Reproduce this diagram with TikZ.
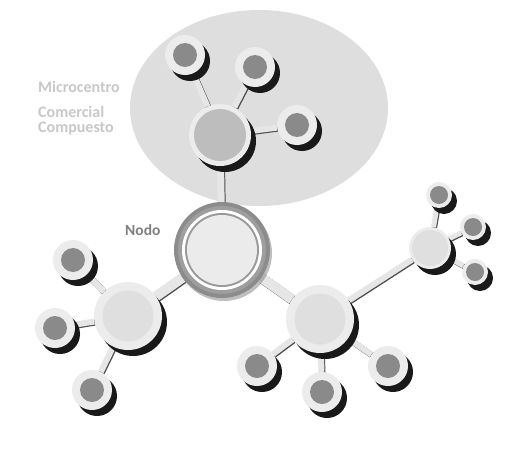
\documentclass[tikz,border=0pt]{standalone}
\usepackage{fontspec}
\setmainfont{Carlito}
\usetikzlibrary{shadows,backgrounds}

\definecolor{ringgray}{HTML}{ECECEC}
\definecolor{dotgray}{HTML}{8A8A8A}
\definecolor{hubgray}{HTML}{DFDFDF}
\definecolor{tophubgray}{HTML}{BDBDBD}
\definecolor{cloudgray}{HTML}{DEDEDE}
\definecolor{linkgray}{HTML}{E6E6E6}
\definecolor{labelgray}{HTML}{C8C8C8}
\definecolor{nodogray}{HTML}{8C8C8C}

\tikzset{
  shade/.style={drop shadow={shadow xshift=5pt,shadow yshift=-6pt,fill=black!90,opacity=1}},
  sat/.style={circle,inner sep=0pt,minimum size=40pt,fill=ringgray,shade,
    path picture={\fill[dotgray] (path picture bounding box.center) circle (12pt);}},
  tinysat/.style={circle,inner sep=0pt,minimum size=26pt,fill=ringgray,shade,
    path picture={\fill[dotgray] (path picture bounding box.center) circle (9pt);}},
  hub/.style={circle,inner sep=0pt,minimum size=68pt,fill=ringgray,shade,
    path picture={\fill[hubgray] (path picture bounding box.center) circle (25.5pt);}},
  link/.style={line width=#1,draw=linkgray},
  linkshade/.style={line width=#1,draw=black!70,transform canvas={xshift=1pt,yshift=-1pt}}
}

\begin{document}
\begin{tikzpicture}[x=1pt,y=-1pt]
  \useasboundingbox (0,0) rectangle (522,458);

  % nodo central
  \node[circle,inner sep=0pt,minimum size=96pt,fill=nodogray,
    drop shadow={shadow xshift=2pt,shadow yshift=-3pt,fill=black!50,opacity=.5},
    path picture={
      \fill[black!38] (path picture bounding box.center) circle (44pt);
      \fill[white] (path picture bounding box.center) circle (40pt);
      \fill[black!40] (path picture bounding box.center) circle (37pt);
      \fill[black!8] (path picture bounding box.center) circle (35pt);
    }] (nodo) at (222,250) {};
  \node[anchor=base west,inner sep=0pt,text=black!50,font=\fontsize{15.5}{15}\selectfont\bfseries]
    (lblnodo) at (125,235) {Nodo};

  % microcentro
  \node[hub,minimum size=62pt,path picture={\fill[tophubgray] (path picture bounding box.center) circle (26pt);}]
    (tophub) at (220,135) {};
  \node[sat] (tsat1) at (185,55) {};
  \node[sat] (tsat2) at (255,67) {};
  \node[sat] (tsat3) at (297,125) {};
  \node[anchor=base west,inner sep=0pt,text=labelgray,font=\fontsize{16}{15}\selectfont\bfseries]
    (lblmicro) at (38,92) {Microcentro};
  \node[anchor=north west,inner sep=0pt,align=left,text=labelgray,font=\fontsize{16}{15}\selectfont\bfseries]
    (lblcomercial) at (38,106) {Comercial\\Compuesto};

  % izquierda
  \node[hub] (lefthub) at (128,316) {};
  \node[sat] (lsat1) at (73,260) {};
  \node[sat] (lsat2) at (55,328) {};
  \node[sat] (lsat3) at (92,390) {};

  % derecha
  \node[hub] (righthub) at (320,319) {};
  \node[sat] (rsat1) at (257,366) {};
  \node[sat] (rsat2) at (322,392) {};
  \node[sat] (rsat3) at (388,366) {};

  % extremo derecho
  \node[hub,minimum size=42pt,path picture={\fill[hubgray] (path picture bounding box.center) circle (18pt);}]
    (farhub) at (430,248) {};
  \node[tinysat] (fsat1) at (439,195) {};
  \node[tinysat] (fsat2) at (473,227) {};
  \node[tinysat] (fsat3) at (475,272) {};

  \begin{scope}[on background layer]
    \fill[white] (0,0) rectangle (522,458);
    \fill[cloudgray] (259,108) ellipse [x radius=129, y radius=98];
    \foreach \a/\b/\w in {nodo/tophub/7pt, nodo/lefthub/10pt, nodo/righthub/10pt,
        righthub/farhub/6pt, tophub/tsat1/6pt, tophub/tsat2/6pt, tophub/tsat3/6pt,
        lefthub/lsat1/6pt, lefthub/lsat2/6pt, lefthub/lsat3/6pt,
        righthub/rsat1/6pt, righthub/rsat2/6pt, righthub/rsat3/6pt,
        farhub/fsat1/5pt, farhub/fsat2/5pt, farhub/fsat3/5pt} {
      \draw[linkshade=\w] (\a) -- (\b);
      \draw[link=\w] (\a) -- (\b);
    }
  \end{scope}
\end{tikzpicture}
\end{document}
